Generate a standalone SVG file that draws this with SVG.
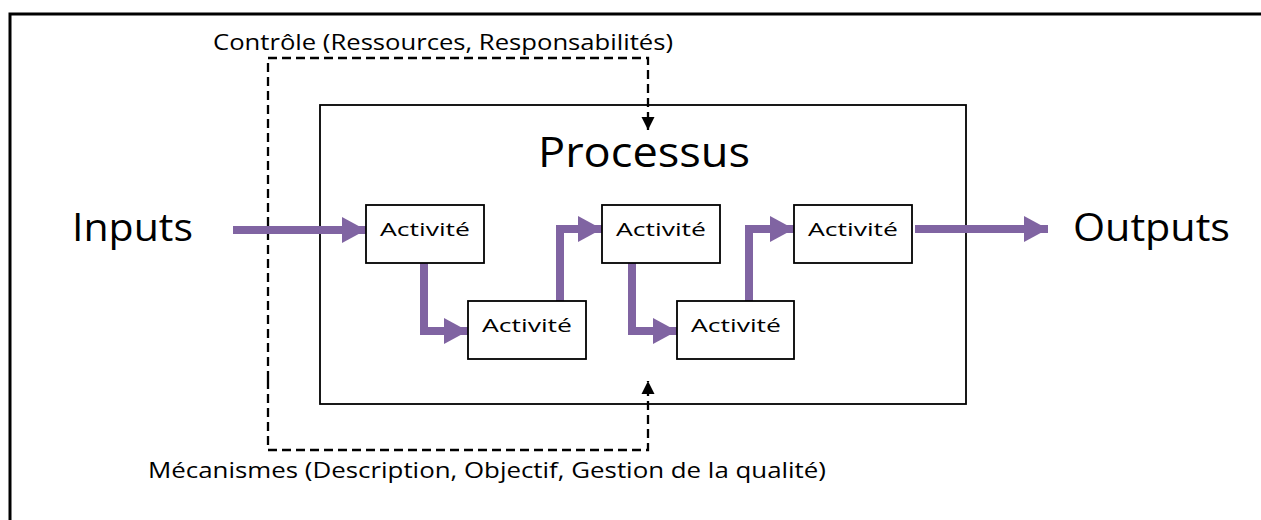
<svg xmlns="http://www.w3.org/2000/svg" width="1261" height="520" viewBox="0 0 1261 520">
<style>
text{font-family:"Open Sans","Liberation Sans",Arial,sans-serif;fill:#000}
.box{fill:#fff;stroke:#000;stroke-width:1.8}
.flow{fill:none;stroke:#8064A2;stroke-width:8;stroke-linejoin:miter}
.dash{fill:none;stroke:#000;stroke-width:2.3;stroke-dasharray:9,5}
.act{font-size:19px;text-anchor:middle}
</style>
<defs>
<marker id="ph" markerUnits="userSpaceOnUse" markerWidth="26" markerHeight="28" refX="24" refY="14" orient="auto">
<path d="M0,1 L24,14 L0,27 Z" fill="#8064A2"/>
</marker>
<marker id="bh" markerUnits="userSpaceOnUse" markerWidth="14" markerHeight="14" refX="13" refY="7" orient="auto">
<path d="M0,0.5 L13,7 L0,13.5 Z" fill="#000"/>
</marker>
</defs>
<rect x="10" y="14" width="1270" height="530" fill="#fff" stroke="#000" stroke-width="3"/>
<g id="processus">
<rect class="box" x="320" y="105" width="646" height="299"/>
<text x="644" y="167" font-size="42" text-anchor="middle" textLength="212" lengthAdjust="spacingAndGlyphs">Processus</text>
</g>
<g id="inputs"><text x="72" y="241" font-size="38" textLength="121" lengthAdjust="spacingAndGlyphs">Inputs</text></g>
<g id="outputs"><text x="1073" y="241" font-size="38" textLength="157" lengthAdjust="spacingAndGlyphs">Outputs</text></g>
<g id="controle"><text x="213" y="50" font-size="21" textLength="460" lengthAdjust="spacingAndGlyphs">Contrôle (Ressources, Responsabilités)</text></g>
<g id="mecanismes"><text x="148" y="478" font-size="21" textLength="678" lengthAdjust="spacingAndGlyphs">Mécanismes (Description, Objectif, Gestion de la qualité)</text></g>
<g id="connectors">
<path class="dash" d="M268,380 L268,58 L648,58 L648,130" marker-end="url(#bh)"/>
<path class="dash" d="M268,380 L268,450 L648,450 L648,381" marker-end="url(#bh)"/>
<path class="flow" d="M233,230 L366,230" marker-end="url(#ph)"/>
<path class="flow" d="M424,263 L424,331 L468,331" marker-end="url(#ph)"/>
<path class="flow" d="M560,301 L560,229 L602,229" marker-end="url(#ph)"/>
<path class="flow" d="M632,263 L632,331 L677,331" marker-end="url(#ph)"/>
<path class="flow" d="M749,301 L749,229 L794,229" marker-end="url(#ph)"/>
<path class="flow" d="M915,229 L1048,229" marker-end="url(#ph)"/>
</g>
<g id="a1"><rect class="box" x="366" y="205" width="118" height="58"/><text class="act" x="425" y="236" textLength="90" lengthAdjust="spacingAndGlyphs">Activité</text></g>
<g id="a2"><rect class="box" x="468" y="301" width="118" height="58"/><text class="act" x="527" y="332" textLength="90" lengthAdjust="spacingAndGlyphs">Activité</text></g>
<g id="a3"><rect class="box" x="602" y="205" width="118" height="58"/><text class="act" x="661" y="236" textLength="90" lengthAdjust="spacingAndGlyphs">Activité</text></g>
<g id="a4"><rect class="box" x="677" y="301" width="117" height="58"/><text class="act" x="736" y="332" textLength="90" lengthAdjust="spacingAndGlyphs">Activité</text></g>
<g id="a5"><rect class="box" x="794" y="205" width="118" height="58"/><text class="act" x="853" y="236" textLength="90" lengthAdjust="spacingAndGlyphs">Activité</text></g>
</svg>
